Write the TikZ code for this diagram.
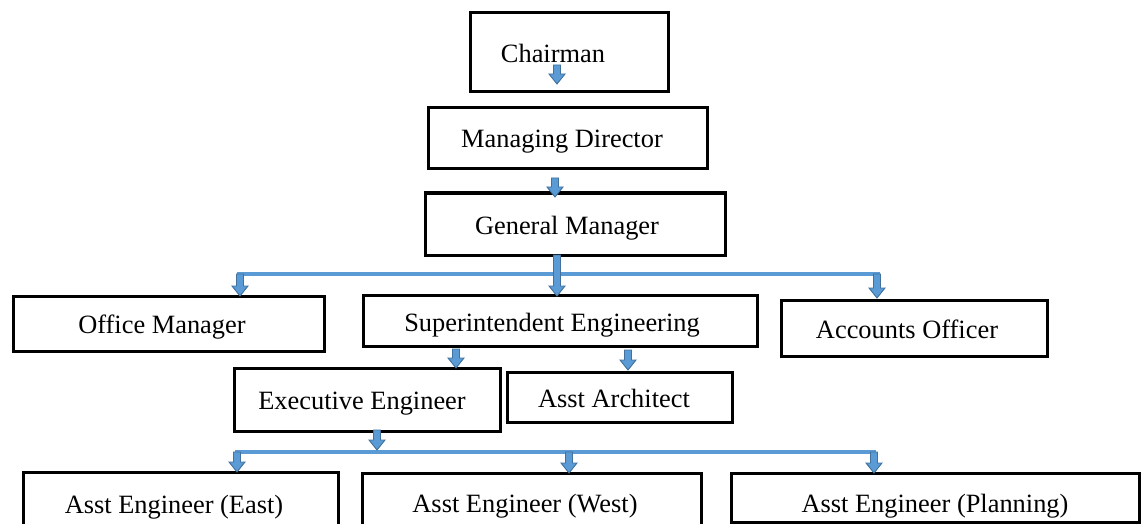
\documentclass[tikz,border=0pt]{standalone}
\usepackage{fontspec}
\setmainfont{Liberation Serif}
\usetikzlibrary{calc}
\definecolor{arrfill}{HTML}{5B9BD5}
\definecolor{arrline}{HTML}{41719C}
\definecolor{hlinecol}{HTML}{5B9BD5}
\newcommand\blockarrow[2]{\path[blockarr] let \p1=(#1), \p2=(#2) in (\x1-3.5pt,\y1) -- (\x1+3.5pt,\y1) -- (\x1+3.5pt,\y2+10pt) -- (\x1+8pt,\y2+10pt) -- (\x1,\y2) -- (\x1-8pt,\y2+10pt) -- (\x1-3.5pt,\y2+10pt) -- cycle;}
\tikzset{
  box/.style={draw=black, line width=3pt, inner sep=0pt, fill=none},
  lbl/.style={anchor=base, inner sep=0pt, font=\fontsize{26.4}{30}\selectfont},
  blockarr/.style={fill=arrfill, draw=arrline, line width=0.9pt, line join=miter},
  hline/.style={draw=hlinecol, line width=4pt}
}
\begin{document}
\begin{tikzpicture}[x=1pt,y=-1pt]
\useasboundingbox (0,0) rectangle (1141,524);
% boxes
\node[box, minimum width=198, minimum height=79] (chair) at (569,52.5) {};
\node[box, minimum width=279, minimum height=61] (md) at (567.5,138.5) {};
\node[box, minimum width=300, minimum height=62] (gm) at (575,224) {};
\node[box, minimum width=311, minimum height=55] (om) at (168.5,323.5) {};
\node[box, minimum width=394, minimum height=51] (se) at (560,320.5) {};
\node[box, minimum width=266, minimum height=56] (ao) at (914,328) {};
\node[box, minimum width=266, minimum height=63] (ee) at (367,399.5) {};
\node[box, minimum width=225, minimum height=50] (aa) at (619.5,397) {};
\node[box, minimum width=315, minimum height=55] (east) at (180.5,499.5) {};
\node[box, minimum width=339, minimum height=54] (west) at (531.5,500) {};
\node[box, minimum width=408, minimum height=49] (plan) at (935,497.5) {};
% labels
\node[lbl] (tchair) at (553,63) {Chairman};
\node[lbl] (tmd) at (562,148) {Managing Director};
\node[lbl] (tgm) at (567,234) {General Manager};
\node[lbl] (tom) at (162,333) {Office Manager};
\node[lbl] (tse) at (552,331) {Superintendent Engineering};
\node[lbl] (tao) at (907,338) {Accounts Officer};
\node[lbl] (tee) at (362,409) {Executive Engineer};
\node[lbl] (taa) at (614,407) {Asst Architect};
\node[lbl] (teast) at (174,513) {Asst Engineer (East)};
\node[lbl] (twest) at (525,512) {Asst Engineer (West)};
\node[lbl] (tplan) at (935,512) {Asst Engineer (Planning)};
% connector coordinates
\coordinate (a1s) at (557,65);  \coordinate (a1e) at (557,84);
\coordinate (a2s) at (555,178); \coordinate (a2e) at (555,197);
\coordinate (a3s) at (557,255); \coordinate (a3e) at (557,296);
\coordinate (hl1) at (237,274); \coordinate (hr1) at (880,274);
\coordinate (a4s) at (240,274); \coordinate (a4e) at (240,296);
\coordinate (a5s) at (877,274); \coordinate (a5e) at (877,298);
\coordinate (a6s) at (456,349); \coordinate (a6e) at (456,368);
\coordinate (a7s) at (628,350); \coordinate (a7e) at (628,370);
\coordinate (a8s) at (377,430); \coordinate (a8e) at (377,450);
\coordinate (hl2) at (235,452); \coordinate (hr2) at (876,452);
\coordinate (a9s) at (237,452); \coordinate (a9e) at (237,472);
\coordinate (a10s) at (569,452); \coordinate (a10e) at (569,473);
\coordinate (a11s) at (874,452); \coordinate (a11e) at (874,473);
% horizontal bars
\draw[hline] (hl1) -- (hr1);
\draw[hline] (hl2) -- (hr2);
% block arrows
\blockarrow{a1s}{a1e}
\blockarrow{a2s}{a2e}
\blockarrow{a3s}{a3e}
\blockarrow{a4s}{a4e}
\blockarrow{a5s}{a5e}
\blockarrow{a6s}{a6e}
\blockarrow{a7s}{a7e}
\blockarrow{a8s}{a8e}
\blockarrow{a9s}{a9e}
\blockarrow{a10s}{a10e}
\blockarrow{a11s}{a11e}
\end{tikzpicture}
\end{document}
